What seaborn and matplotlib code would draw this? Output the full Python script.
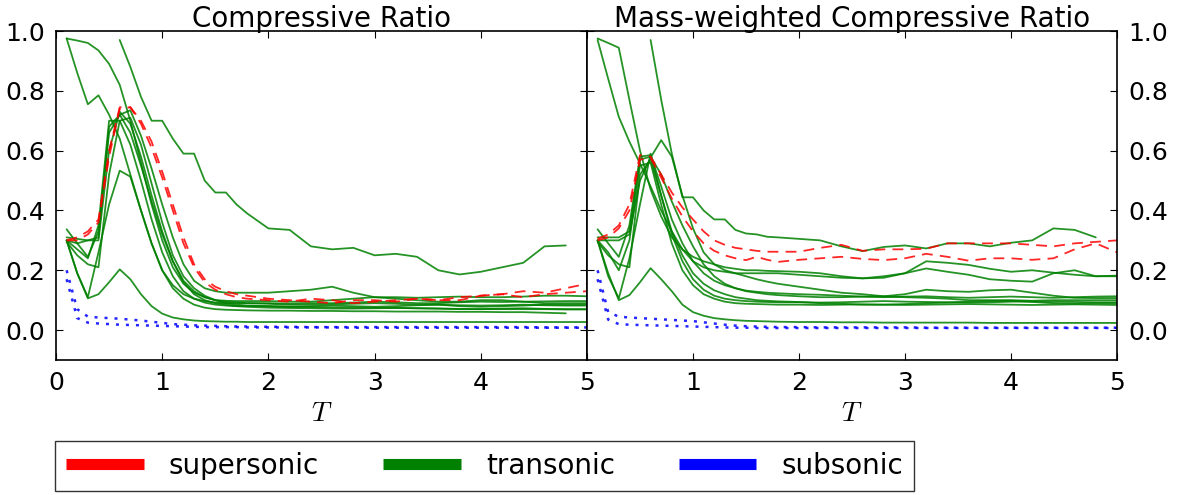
import numpy as np
import pandas as pd
import matplotlib
matplotlib.use("Agg")
import matplotlib.pyplot as plt
import seaborn as sns
from matplotlib.lines import Line2D

nan = np.nan

# ---------------- data ----------------
T = [0.1, 0.2, 0.3, 0.4, 0.5, 0.6, 0.7, 0.8, 0.9, 1.0, 1.1, 1.2, 1.3, 1.4, 1.5, 1.6, 1.7,
     1.8, 2.0, 2.2, 2.4, 2.6, 2.8, 3.0, 3.2, 3.4, 3.6, 3.8, 4.0, 4.2, 4.4, 4.6, 4.8, 5.0]

titles = ["Compressive Ratio", "Mass-weighted Compressive Ratio"]
regimes = ["supersonic", "transonic", "subsonic"]

# --- Compressive Ratio (left panel) ---
left_super_1 = [0.30, 0.31, 0.33, 0.37, 0.60, 0.745, 0.745, 0.70, 0.63, 0.53, 0.42, 0.31, 0.22, 0.17, 0.145, 0.13, 0.12,
                0.115, 0.105, 0.10, 0.095, 0.09, 0.10, 0.10, 0.095, 0.105, 0.10, 0.11, 0.115, 0.12, 0.13, 0.125, 0.14, 0.155]
left_super_2 = [0.30, 0.30, 0.32, 0.36, 0.58, 0.74, 0.745, 0.69, 0.61, 0.51, 0.40, 0.29, 0.21, 0.16, 0.135, 0.12, 0.11,
                0.105, 0.10, 0.095, 0.105, 0.10, 0.09, 0.095, 0.10, 0.105, 0.10, 0.10, 0.115, 0.12, 0.11, 0.12, 0.125, 0.13]

left_trans_1 = [nan, nan, nan, nan, nan, 0.97, 0.88, 0.78, 0.70, 0.70, 0.64, 0.59, 0.59, 0.50, 0.46, 0.46, 0.42,
                0.39, 0.34, 0.335, 0.28, 0.27, 0.275, 0.25, 0.255, 0.245, 0.20, 0.186, 0.195, 0.21, 0.225, 0.28, 0.283, nan]
left_trans_2 = [0.975, 0.86, 0.755, 0.785, 0.72, 0.64, 0.52, 0.40, 0.29, 0.20, 0.15, 0.12, 0.105, 0.097, 0.092, 0.09, 0.09,
                0.09, 0.09, 0.088, 0.09, 0.09, 0.092, 0.095, 0.093, 0.09, 0.09, 0.093, 0.095, 0.094, 0.095, 0.096, 0.097, 0.097]
left_trans_3 = [0.975, 0.968, 0.96, 0.935, 0.89, 0.82, 0.70, 0.56, 0.42, 0.30, 0.21, 0.155, 0.125, 0.11, 0.10, 0.098, 0.097,
                0.097, 0.097, 0.095, 0.095, 0.10, 0.105, 0.11, 0.11, 0.108, 0.11, 0.112, 0.11, 0.11, 0.112, 0.115, 0.115, 0.113]
left_trans_4 = [0.337, 0.29, 0.245, 0.33, 0.66, 0.72, 0.735, 0.65, 0.54, 0.42, 0.31, 0.22, 0.165, 0.14, 0.13, 0.125, 0.125,
                0.125, 0.125, 0.13, 0.135, 0.145, 0.125, 0.11, 0.105, 0.10, 0.095, 0.095, 0.10, 0.10, 0.095, 0.09, 0.09, 0.09]
left_trans_5 = [0.31, 0.305, 0.30, 0.31, 0.68, 0.72, 0.66, 0.55, 0.43, 0.32, 0.23, 0.165, 0.13, 0.11, 0.10, 0.095, 0.092,
                0.09, 0.088, 0.085, 0.085, 0.086, 0.088, 0.09, 0.088, 0.085, 0.085, 0.083, 0.082, 0.083, 0.085, 0.083, 0.082, 0.082]
left_trans_6 = [0.295, 0.25, 0.22, 0.21, 0.52, 0.70, 0.71, 0.62, 0.49, 0.36, 0.25, 0.18, 0.14, 0.115, 0.10, 0.09, 0.085,
                0.082, 0.08, 0.078, 0.077, 0.076, 0.075, 0.075, 0.074, 0.073, 0.072, 0.071, 0.07, 0.07, 0.07, 0.07, 0.069, 0.069]
left_trans_7 = [0.30, 0.27, 0.24, 0.35, 0.70, 0.70, 0.62, 0.50, 0.37, 0.26, 0.18, 0.13, 0.105, 0.092, 0.085, 0.082, 0.08,
                0.08, 0.08, 0.078, 0.08, 0.082, 0.08, 0.078, 0.08, 0.083, 0.085, 0.08, 0.078, 0.08, 0.082, 0.085, 0.085, 0.085]
left_trans_8 = [0.30, 0.29, 0.30, 0.30, 0.60, 0.73, 0.69, 0.58, 0.45, 0.33, 0.23, 0.16, 0.12, 0.10, 0.09, 0.085, 0.08,
                0.078, 0.075, 0.074, 0.073, 0.072, 0.072, 0.073, 0.074, 0.073, 0.072, 0.07, 0.07, 0.072, 0.073, 0.071, 0.07, 0.07]
left_trans_9 = [0.30, 0.19, 0.11, 0.26, 0.42, 0.533, 0.513, 0.40, 0.29, 0.20, 0.14, 0.105, 0.085, 0.075, 0.07, 0.068, 0.067,
                0.066, 0.065, 0.065, 0.064, 0.064, 0.063, 0.063, 0.062, 0.062, 0.062, 0.061, 0.061, 0.06, 0.06, 0.058, 0.056, nan]
left_trans_10 = [0.30, 0.19, 0.106, 0.12, 0.16, 0.203, 0.17, 0.12, 0.08, 0.055, 0.042, 0.036, 0.032, 0.03, 0.029, 0.028, 0.028,
                 0.027, 0.027, 0.027, 0.027, 0.027, 0.027, 0.027, 0.027, 0.027, 0.027, 0.027, 0.027, 0.027, 0.027, 0.027, 0.027, 0.027]

left_sub_1 = [0.20, 0.07, 0.045, 0.042, 0.04, 0.038, 0.035, 0.032, 0.028, 0.024, 0.02, 0.018, 0.016, 0.015, 0.014, 0.013, 0.012,
              0.012, 0.011, 0.011, 0.01, 0.01, 0.01, 0.01, 0.01, 0.01, 0.01, 0.01, 0.01, 0.01, 0.01, 0.009, 0.009, 0.009]
left_sub_2 = [0.17, 0.04, 0.025, 0.022, 0.02, 0.018, 0.017, 0.016, 0.015, 0.014, 0.013, 0.012, 0.011, 0.01, 0.01, 0.01, 0.01,
              0.009, 0.009, 0.009, 0.009, 0.009, 0.008, 0.008, 0.008, 0.008, 0.008, 0.008, 0.008, 0.008, 0.008, 0.008, 0.008, 0.008]

# --- Mass-weighted Compressive Ratio (right panel) ---
right_super_1 = [0.305, 0.32, 0.35, 0.42, 0.585, 0.58, 0.52, 0.46, 0.41, 0.37, 0.33, 0.30, 0.285, 0.275, 0.27, 0.265, 0.262,
                 0.262, 0.262, 0.275, 0.285, 0.265, 0.27, 0.27, 0.272, 0.29, 0.29, 0.29, 0.29, 0.285, 0.28, 0.29, 0.295, 0.30]
right_super_2 = [0.30, 0.31, 0.34, 0.40, 0.57, 0.575, 0.51, 0.44, 0.38, 0.33, 0.29, 0.265, 0.25, 0.24, 0.234, 0.245, 0.235,
                 0.228, 0.235, 0.24, 0.245, 0.238, 0.234, 0.24, 0.255, 0.245, 0.232, 0.24, 0.24, 0.235, 0.24, 0.27, 0.29, 0.26]

right_trans_1 = [nan, nan, nan, nan, nan, 0.97, 0.77, 0.59, 0.444, 0.444, 0.40, 0.37, 0.37, 0.335, 0.323, 0.32, 0.312,
                 0.31, 0.305, 0.30, 0.28, 0.264, 0.278, 0.283, 0.273, 0.29, 0.29, 0.28, 0.292, 0.30, 0.34, 0.335, 0.31, nan]
right_trans_2 = [0.975, 0.96, 0.944, 0.77, 0.60, 0.47, 0.38, 0.31, 0.27, 0.245, 0.23, 0.22, 0.21, 0.205, 0.20, 0.20, 0.198,
                 0.197, 0.195, 0.19, 0.18, 0.173, 0.175, 0.19, 0.23, 0.225, 0.218, 0.205, 0.195, 0.20, 0.192, 0.185, 0.18, 0.182]
right_trans_3 = [0.97, 0.84, 0.713, 0.63, 0.557, 0.48, 0.40, 0.33, 0.27, 0.23, 0.21, 0.20, 0.195, 0.19, 0.19, 0.19, 0.19,
                 0.19, 0.185, 0.18, 0.175, 0.173, 0.18, 0.19, 0.206, 0.195, 0.185, 0.17, 0.165, 0.162, 0.19, 0.20, 0.18, 0.18]
right_trans_4 = [0.30, 0.30, 0.30, 0.32, 0.50, 0.577, 0.635, 0.58, 0.45, 0.34, 0.26, 0.22, 0.20, 0.19, 0.18, 0.17, 0.162,
                 0.155, 0.145, 0.135, 0.125, 0.12, 0.113, 0.11, 0.108, 0.105, 0.10, 0.10, 0.10, 0.098, 0.10, 0.10, 0.10, 0.10]
right_trans_5 = [0.337, 0.29, 0.245, 0.35, 0.58, 0.585, 0.48, 0.37, 0.29, 0.23, 0.19, 0.165, 0.15, 0.14, 0.132, 0.128, 0.125,
                 0.123, 0.12, 0.118, 0.115, 0.112, 0.11, 0.112, 0.113, 0.11, 0.108, 0.11, 0.112, 0.11, 0.108, 0.11, 0.112, 0.113]
right_trans_6 = [0.31, 0.31, 0.31, 0.33, 0.57, 0.58, 0.52, 0.43, 0.35, 0.28, 0.22, 0.18, 0.155, 0.14, 0.13, 0.125, 0.12,
                 0.117, 0.113, 0.11, 0.11, 0.112, 0.113, 0.12, 0.135, 0.13, 0.128, 0.133, 0.135, 0.125, 0.115, 0.108, 0.107, 0.107]
right_trans_7 = [0.295, 0.25, 0.22, 0.21, 0.52, 0.57, 0.45, 0.33, 0.25, 0.19, 0.155, 0.133, 0.12, 0.11, 0.105, 0.10, 0.098,
                 0.096, 0.094, 0.09, 0.088, 0.085, 0.085, 0.087, 0.09, 0.092, 0.095, 0.097, 0.098, 0.094, 0.09, 0.088, 0.09, 0.09]
right_trans_8 = [0.30, 0.26, 0.20, 0.30, 0.55, 0.56, 0.42, 0.29, 0.20, 0.15, 0.12, 0.105, 0.095, 0.09, 0.088, 0.087, 0.086,
                 0.085, 0.085, 0.084, 0.085, 0.086, 0.085, 0.084, 0.085, 0.086, 0.087, 0.086, 0.085, 0.084, 0.085, 0.086, 0.085, 0.084]
right_trans_9 = [0.30, 0.18, 0.106, 0.24, 0.42, 0.59, 0.45, 0.32, 0.23, 0.17, 0.135, 0.115, 0.105, 0.10, 0.097, 0.095, 0.094,
                 0.093, 0.093, 0.092, 0.093, 0.095, 0.097, 0.095, 0.094, 0.093, 0.092, 0.093, 0.095, 0.096, 0.095, 0.094, 0.093, 0.093]
right_trans_10 = [0.30, 0.19, 0.10, 0.117, 0.16, 0.207, 0.17, 0.13, 0.085, 0.06, 0.048, 0.04, 0.036, 0.033, 0.031, 0.03, 0.029,
                  0.028, 0.027, 0.027, 0.026, 0.026, 0.025, 0.025, 0.025, 0.025, 0.025, 0.024, 0.024, 0.024, 0.024, 0.024, 0.024, 0.024]

right_sub_1 = [0.20, 0.06, 0.045, 0.042, 0.04, 0.038, 0.036, 0.034, 0.032, 0.03, 0.026, 0.022, 0.018, 0.015, 0.013, 0.012, 0.011,
               0.01, 0.01, 0.009, 0.009, 0.009, 0.009, 0.009, 0.008, 0.008, 0.008, 0.008, 0.008, 0.008, 0.008, 0.008, 0.008, 0.008]
right_sub_2 = [0.17, 0.035, 0.02, 0.018, 0.017, 0.016, 0.015, 0.014, 0.013, 0.012, 0.011, 0.01, 0.009, 0.008, 0.008, 0.007, 0.007,
               0.007, 0.007, 0.007, 0.007, 0.007, 0.007, 0.007, 0.007, 0.007, 0.007, 0.007, 0.007, 0.007, 0.007, 0.007, 0.007, 0.007]

left_series = {
    "supersonic": [left_super_1, left_super_2],
    "transonic": [left_trans_1, left_trans_2, left_trans_3, left_trans_4, left_trans_5,
                  left_trans_6, left_trans_7, left_trans_8, left_trans_9, left_trans_10],
    "subsonic": [left_sub_1, left_sub_2],
}
right_series = {
    "supersonic": [right_super_1, right_super_2],
    "transonic": [right_trans_1, right_trans_2, right_trans_3, right_trans_4, right_trans_5,
                  right_trans_6, right_trans_7, right_trans_8, right_trans_9, right_trans_10],
    "subsonic": [right_sub_1, right_sub_2],
}

# ---------------- long-form table ----------------
def to_frame(series):
    rows = []
    for reg in ["transonic", "supersonic", "subsonic"]:
        for k, vals in enumerate(series[reg]):
            assert len(vals) == len(T)
            for t, v in zip(T, vals):
                rows.append({"T": t, "value": v, "regime": reg, "run": f"{reg}_{k}"})
    return pd.DataFrame(rows).dropna()

frames = [to_frame(left_series), to_frame(right_series)]

# ---------------- style ----------------
sns.set_style("white")
plt.rcParams["font.family"] = ["DejaVu Sans"]
plt.rcParams["mathtext.fontset"] = "cm"
for key in ["text.color", "axes.labelcolor", "xtick.color", "ytick.color"]:
    plt.rcParams[key] = "black"

palette = {"supersonic": "#ff0000", "transonic": "#008000", "subsonic": "#0000ff"}
dashes = {"supersonic": (6, 4), "transonic": "", "subsonic": (1.2, 2.8)}

W, H = 1178, 495
fig = plt.figure(figsize=(W / 100, H / 100), dpi=100)
ax_l = fig.add_axes([56 / W, (H - 360) / H, 531 / W, 329 / H])
ax_r = fig.add_axes([587 / W, (H - 360) / H, 530 / W, 329 / H])

for ax, df, title in zip([ax_l, ax_r], frames, titles):
    sns.lineplot(data=df, x="T", y="value", hue="regime", style="regime",
                 units="run", estimator=None, sort=False,
                 palette=palette, dashes=dashes, linewidth=1.3,
                 alpha=0.85, legend=False, ax=ax)
    for line in ax.get_lines():
        if matplotlib.colors.to_hex(line.get_color()) == "#0000ff":
            line.set_linewidth(1.8)
    ax.set_xlim(0, 5)
    ax.set_ylim(-0.1, 1.0)
    ax.set_xticks([0, 1, 2, 3, 4, 5])
    ax.set_yticks([0.0, 0.2, 0.4, 0.6, 0.8, 1.0])
    ax.set_title(title, fontsize=20, pad=3)
    ax.set_xlabel("$T$", fontsize=20, labelpad=3)
    ax.set_ylabel("")
    ax.tick_params(direction="in", length=5, width=0.8, labelsize=18,
                   top=True, right=True, bottom=True, left=True, pad=8,
                   colors="black")
    for s in ax.spines.values():
        s.set_color("black")
        s.set_linewidth(1.2)
    ax.set_facecolor("white")

ax_l.set_yticklabels([f"{v:.1f}" for v in [0.0, 0.2, 0.4, 0.6, 0.8, 1.0]])
ax_r.tick_params(labelleft=False, labelright=True)
ax_r.set_yticklabels([f"{v:.1f}" for v in [0.0, 0.2, 0.4, 0.6, 0.8, 1.0]])
ax_r.set_xticklabels(["", "1", "2", "3", "4", "5"])

handles = [Line2D([0], [0], color=palette[r], lw=8, solid_capstyle="butt") for r in regimes]
leg = fig.legend(handles, regimes, loc="lower left",
                 bbox_to_anchor=(55 / W, 4 / H), borderaxespad=0, ncol=3, fontsize=20,
                 frameon=True, fancybox=False, edgecolor="black",
                 handlelength=2.8, columnspacing=2.3, handletextpad=0.9,
                 borderpad=0.4)
leg.get_frame().set_linewidth(1.0)

fig.savefig("out.png", dpi=100, facecolor="white")
